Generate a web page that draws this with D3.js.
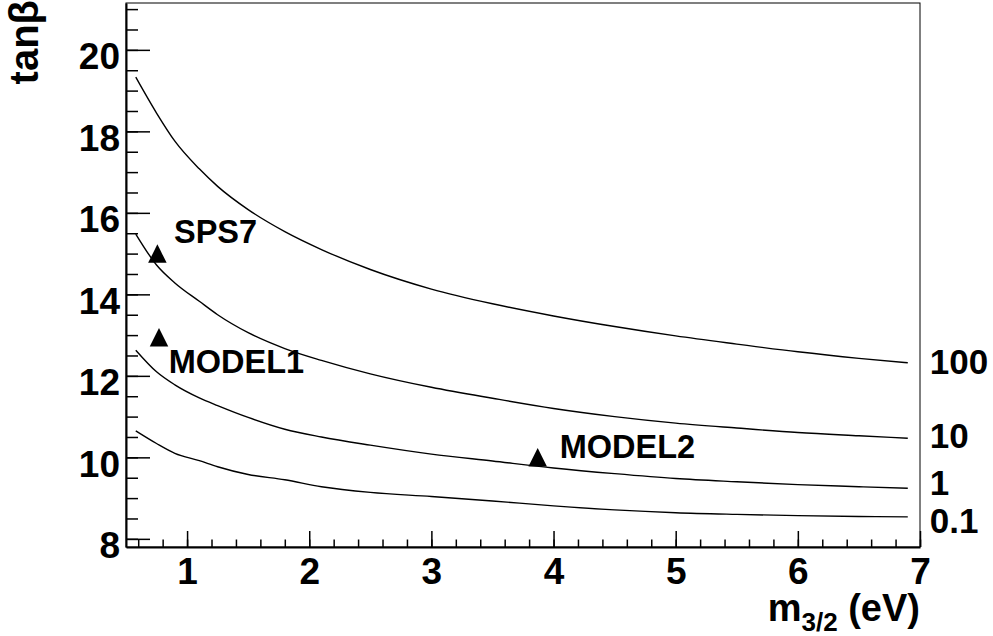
<!DOCTYPE html>
<html>
<head>
<meta charset="utf-8">
<script src="https://cdn.jsdelivr.net/npm/d3@7"></script>
<style>
  html, body { margin: 0; padding: 0; background: #fff; }
  svg { display: block; }
  text { font-family: "Liberation Sans", Arial, Helvetica, sans-serif; font-weight: bold; fill: #000; }
</style>
</head>
<body>
<svg id="chart" width="993" height="636"></svg>
<script>
// Gravitino mass grid (eV) shared by the four contours
const massGrid = [0.58, 0.75, 0.9, 1.1, 1.25, 1.5, 1.8, 2.1, 2.5, 3.0, 3.5, 4.0, 4.5, 5.0, 5.5, 6.0, 6.5, 6.9];

// tan(beta) along each contour
const contour100 = [19.33, 18.45, 17.76, 17.08, 16.65, 16.08, 15.54, 15.10, 14.61, 14.13, 13.77, 13.47, 13.21, 12.98, 12.78, 12.59, 12.43, 12.32];
const contour10  = [15.48, 14.72, 14.28, 13.83, 13.50, 13.06, 12.67, 12.38, 12.05, 11.72, 11.45, 11.20, 11.00, 10.84, 10.72, 10.61, 10.53, 10.47];
const contour1   = [12.63, 12.10, 11.78, 11.46, 11.27, 10.98, 10.69, 10.50, 10.30, 10.08,  9.91,  9.74,  9.60,  9.48,  9.40,  9.33,  9.28,  9.24];
const contour01  = [10.65, 10.34, 10.10,  9.92,  9.77,  9.58,  9.45,  9.28,  9.14,  9.04,  8.93,  8.81,  8.71,  8.64,  8.60,  8.57,  8.55,  8.54];

const contourNames = ["100", "10", "1", "0.1"];
const contourSeries = [contour100, contour10, contour1, contour01];
// label anchor (data units) for each contour, right of the frame
const contourLabelX = [7.08, 7.08, 7.08, 7.08];
const contourLabelY = [12.05, 10.23, 9.07, 8.14];

// benchmark points
const modelNames = ["SPS7", "MODEL1", "MODEL2"];
const modelMass  = [0.757, 0.77, 3.87];
const modelTanb  = [15.0, 12.95, 10.0];
const modelLabelX = [0.893, 0.85, 4.05];
const modelLabelY = [15.27, 12.06, 9.975];

// axis ticks
const xMajorTicks = [1, 2, 3, 4, 5, 6, 7];
const xMinorTicks = d3.range(0.6, 7.001, 0.2);
const yMajorTicks = [8, 10, 12, 14, 16, 18, 20];
const yMinorTicks = d3.range(8, 21.001, 0.5);

const svg = d3.select("#chart");
const frame = { left: 126, right: 920, top: 3, bottom: 547 };

const x = d3.scaleLinear().domain([0.5, 7]).range([frame.left, frame.right]);
const y = d3.scaleLinear().domain([7.8, 21.15]).range([frame.bottom, frame.top]);

// frame
svg.append("rect")
  .attr("x", frame.left).attr("y", frame.top)
  .attr("width", frame.right - frame.left).attr("height", frame.bottom - frame.top)
  .attr("fill", "none").attr("stroke", "#000").attr("stroke-width", 1);

// x axis: minor then major ticks, pointing into the frame
const gxMinor = svg.append("g").attr("transform", `translate(0,${frame.bottom})`)
  .call(d3.axisBottom(x).tickValues(xMinorTicks).tickSize(-7.5).tickFormat(""));
gxMinor.select(".domain").remove();
const gx = svg.append("g").attr("transform", `translate(0,${frame.bottom})`)
  .call(d3.axisBottom(x).tickValues(xMajorTicks).tickSize(-16).tickSizeOuter(0).tickFormat(d3.format("d")));
gx.selectAll("text").attr("y", 37).attr("dy", 0).style("font-size", "37px");

// y axis
const gyMinor = svg.append("g").attr("transform", `translate(${frame.left},0)`)
  .call(d3.axisLeft(y).tickValues(yMinorTicks).tickSize(-12).tickFormat(""));
gyMinor.select(".domain").remove();
const gy = svg.append("g").attr("transform", `translate(${frame.left},0)`)
  .call(d3.axisLeft(y).tickValues(yMajorTicks).tickSize(-24).tickSizeOuter(0).tickFormat(d3.format("d")));
gy.selectAll("text").attr("x", -6).attr("dy", 19).style("font-size", "37px");

svg.selectAll(".tick line").attr("stroke", "#000").attr("stroke-width", 1.5);
svg.selectAll(".domain").attr("stroke", "#000").attr("stroke-width", 2);
svg.selectAll(".tick text").attr("font-family", null);

// axis titles
const xTitle = svg.append("text")
  .attr("x", frame.right).attr("y", 621)
  .attr("text-anchor", "end").style("font-size", "38px");
xTitle.append("tspan").text("m");
xTitle.append("tspan").attr("dy", 10).style("font-size", "26px").text("3/2");
xTitle.append("tspan").attr("dy", -10).text(" (eV)");

svg.append("text")
  .attr("transform", "translate(38,0) rotate(-90)")
  .attr("text-anchor", "end").style("font-size", "40px")
  .text("tanβ");

// contours
const line = d3.line()
  .x((d, i) => x(massGrid[i]))
  .y(d => y(d))
  .curve(d3.curveMonotoneX);

svg.append("g").selectAll("path")
  .data(contourSeries)
  .join("path")
  .attr("d", line)
  .attr("fill", "none")
  .attr("stroke", "#000")
  .attr("stroke-width", 1.4);

svg.append("g").selectAll("text")
  .data(contourNames)
  .join("text")
  .attr("x", (d, i) => x(contourLabelX[i]))
  .attr("y", (d, i) => y(contourLabelY[i]))
  .style("font-size", "35px")
  .text(d => d);

// benchmark markers (upward triangles centred on the point)
const triW = 18.5, triH = 18.5;
svg.append("g").selectAll("path")
  .data(modelNames)
  .join("path")
  .attr("d", (d, i) => {
    const cx = x(modelMass[i]), cy = y(modelTanb[i]);
    return `M${cx},${cy - triH / 2}L${cx + triW / 2},${cy + triH / 2}L${cx - triW / 2},${cy + triH / 2}Z`;
  })
  .attr("fill", "#000");

svg.append("g").selectAll("text")
  .data(modelNames)
  .join("text")
  .attr("x", (d, i) => x(modelLabelX[i]))
  .attr("y", (d, i) => y(modelLabelY[i]))
  .style("font-size", "32.5px")
  .text(d => d);
</script>
</body>
</html>
